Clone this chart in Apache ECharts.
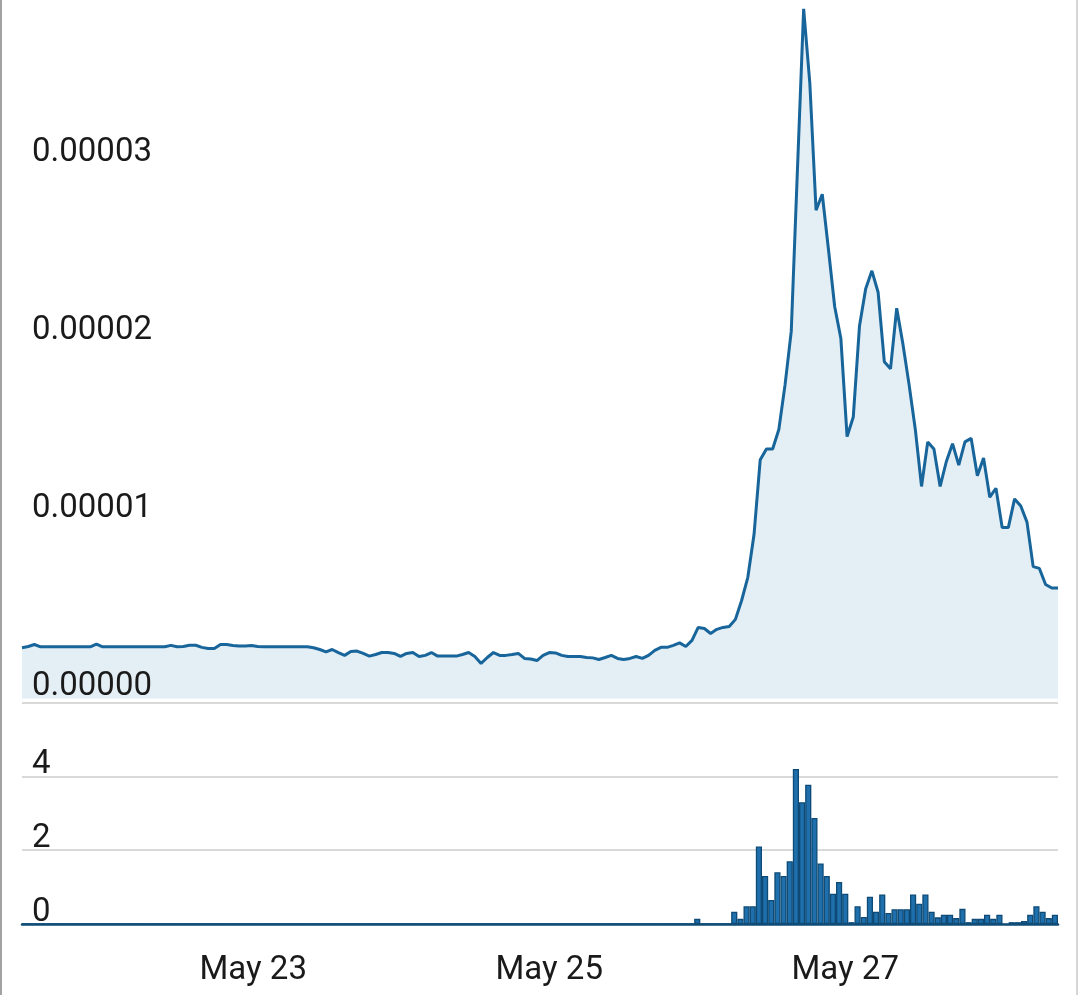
<!DOCTYPE html>
<html>
<head>
<meta charset="utf-8">
<script src="https://cdn.jsdelivr.net/npm/echarts@6/dist/echarts.min.js"></script>
<style>
  html, body { margin: 0; padding: 0; background: #ffffff; }
  #wrap { position: relative; width: 1080px; height: 995px; overflow: hidden; }
  #chart { position: absolute; left: 0; top: 0; width: 1080px; height: 995px; }
  .edgeL { position: absolute; left: 0; top: 0; width: 2px; height: 995px; background: #a3a3a3; }
  .edgeR { position: absolute; left: 1076px; top: 0; width: 2px; height: 995px; background: #d6d6d6; }
</style>
</head>
<body>
<div id="wrap">
  <div id="chart"></div>
  <div class="edgeL"></div>
  <div class="edgeR"></div>
</div>
<script>
// Hourly categories, May 21 11:00 .. May 28 10:00 (168 hours)
const startDay = 21, startHour = 11, hourCount = 168;
const categories = [];
for (let h = 0; h < hourCount; h++) {
  const t = startHour + h;
  categories.push('May ' + (startDay + Math.floor(t / 24)) + ' ' + (t % 24) + ':00');
}
const labelledTimes = ['May 23 0:00', 'May 25 0:00', 'May 27 0:00'];

// Top panel (line / area) values
const lineValues = [
  2.85e-6, 2.92e-6, 3.03e-6, 2.9e-6, 2.9e-6, 2.9e-6, 2.9e-6, 2.9e-6, 2.9e-6, 2.9e-6, 2.9e-6, 2.9e-6,
  3.05e-6, 2.9e-6, 2.9e-6, 2.9e-6, 2.9e-6, 2.9e-6, 2.9e-6, 2.9e-6, 2.9e-6, 2.9e-6, 2.9e-6, 2.9e-6,
  2.98e-6, 2.9e-6, 2.92e-6, 2.99e-6, 2.99e-6, 2.87e-6, 2.81e-6, 2.81e-6, 3.03e-6, 3.03e-6, 2.98e-6, 2.94e-6,
  2.94e-6, 2.98e-6, 2.92e-6, 2.9e-6, 2.9e-6, 2.9e-6, 2.9e-6, 2.9e-6, 2.9e-6, 2.9e-6, 2.9e-6, 2.85e-6,
  2.75e-6, 2.62e-6, 2.75e-6, 2.58e-6, 2.42e-6, 2.64e-6, 2.66e-6, 2.53e-6, 2.38e-6, 2.47e-6, 2.58e-6, 2.58e-6,
  2.53e-6, 2.36e-6, 2.53e-6, 2.58e-6, 2.36e-6, 2.42e-6, 2.58e-6, 2.38e-6, 2.38e-6, 2.38e-6, 2.38e-6, 2.47e-6,
  2.58e-6, 2.36e-6, 1.97e-6, 2.3e-6, 2.58e-6, 2.42e-6, 2.42e-6, 2.47e-6, 2.53e-6, 2.25e-6, 2.22e-6, 2.13e-6,
  2.42e-6, 2.58e-6, 2.56e-6, 2.42e-6, 2.36e-6, 2.36e-6, 2.36e-6, 2.3e-6, 2.28e-6, 2.19e-6, 2.3e-6, 2.42e-6,
  2.25e-6, 2.19e-6, 2.25e-6, 2.36e-6, 2.25e-6, 2.42e-6, 2.7e-6, 2.87e-6, 2.87e-6, 2.98e-6, 3.12e-6, 2.92e-6,
  3.26e-6, 3.99e-6, 3.93e-6, 3.65e-6, 3.88e-6, 3.99e-6, 4.04e-6, 4.44e-6, 5.5e-6, 6.8e-6, 9.2e-6, 13.4e-6,
  14.0e-6, 14.0e-6, 15.1e-6, 17.6e-6, 20.6e-6, 29.7e-6, 38.7e-6, 34.5e-6, 27.4e-6, 28.3e-6, 25.2e-6, 22.0e-6,
  20.2e-6, 14.7e-6, 15.8e-6, 20.9e-6, 23.0e-6, 24.0e-6, 22.8e-6, 18.9e-6, 18.5e-6, 21.9e-6, 19.9e-6, 17.6e-6,
  15.1e-6, 11.9e-6, 14.4e-6, 14.0e-6, 11.9e-6, 13.3e-6, 14.3e-6, 13.1e-6, 14.4e-6, 14.6e-6, 12.5e-6, 13.5e-6,
  11.3e-6, 11.8e-6, 9.6e-6, 9.6e-6, 11.2e-6, 10.8e-6, 9.9e-6, 7.4e-6, 7.3e-6, 6.4e-6, 6.2e-6, 6.2e-6
];

// Bottom panel (bars) values
const barValues = [
  0, 0, 0, 0, 0, 0, 0, 0, 0, 0, 0, 0,
  0, 0, 0, 0, 0, 0, 0, 0, 0, 0, 0, 0,
  0, 0, 0, 0, 0, 0, 0, 0, 0, 0, 0, 0,
  0, 0, 0, 0, 0, 0, 0, 0, 0, 0, 0, 0,
  0, 0, 0, 0, 0, 0, 0, 0, 0, 0, 0, 0,
  0, 0, 0, 0, 0, 0, 0, 0, 0, 0, 0, 0,
  0, 0, 0, 0, 0, 0, 0, 0, 0, 0, 0, 0,
  0, 0, 0, 0, 0, 0, 0, 0, 0, 0, 0, 0,
  0, 0, 0, 0, 0, 0, 0, 0, 0, 0, 0, 0,
  0, 0.14, 0, 0, 0, 0, 0, 0.33, 0.14, 0.48, 0.48, 2.1,
  1.3, 0.65, 1.4, 1.3, 1.7, 4.2, 3.3, 3.77, 2.87, 1.64, 1.3, 0.82,
  1.14, 0.82, 0.05, 0.48, 0.19, 0.74, 0.33, 0.8, 0.3, 0.4, 0.4, 0.4,
  0.8, 0.55, 0.8, 0.33, 0.18, 0.25, 0.25, 0.16, 0.41, 0.05, 0.14, 0.14,
  0.25, 0.14, 0.25, null, 0.05, 0.05, 0.08, 0.25, 0.48, 0.33, 0.16, 0.25
];

const topTicks = { min: 0, max: 0.0000392, interval: 0.00001 };
const bottomTicks = { min: 0, max: 6, interval: 2 };

const fontFamily = 'Roboto, "Noto Sans", sans-serif';
const textColor = '#1a1a1a';
const fontSize = 33;

const chart = echarts.init(document.getElementById('chart'), null, { renderer: 'canvas' });
chart.setOption({
  animation: false,
  backgroundColor: '#ffffff',
  grid: [
    { left: 22, right: 22, top: 0, height: 698.5, containLabel: false },
    { left: 22, right: 22, top: 702.5, height: 221.5, containLabel: false }
  ],
  xAxis: [
    {
      type: 'category', gridIndex: 0, data: categories, boundaryGap: false,
      axisLine: { show: false }, axisTick: { show: false }, axisLabel: { show: false },
      splitLine: { show: false }
    },
    {
      type: 'category', gridIndex: 1, data: categories, boundaryGap: true,
      z: 20,
      axisLine: { show: true, onZero: false, lineStyle: { color: '#0f4c78', width: 2.5 } },
      axisTick: { show: false },
      splitLine: { show: false },
      axisLabel: {
        show: true,
        interval: function (index, value) { return labelledTimes.indexOf(value) >= 0; },
        formatter: function (value) { return value.split(' ').slice(0, 2).join(' '); },
        margin: 30,
        fontSize: fontSize, fontFamily: fontFamily, color: textColor
      }
    }
  ],
  yAxis: [
    {
      type: 'value', gridIndex: 0, min: topTicks.min, max: topTicks.max, interval: topTicks.interval,
      z: 10,
      axisLine: { show: false }, axisTick: { show: false }, splitLine: { show: false },
      axisLabel: {
        inside: true, margin: 10, verticalAlign: 'bottom', lineHeight: 23, showMaxLabel: false,
        fontSize: fontSize, fontFamily: fontFamily, color: textColor,
        formatter: function (v) { return v.toFixed(5); }
      }
    },
    {
      type: 'value', gridIndex: 1, min: bottomTicks.min, max: bottomTicks.max, interval: bottomTicks.interval,
      z: 1,
      axisLine: { show: false }, axisTick: { show: false },
      splitLine: { show: true, lineStyle: { color: '#d9d9d9', width: 2 } },
      axisLabel: {
        inside: true, margin: 10, verticalAlign: 'bottom', lineHeight: 23, showMaxLabel: false,
        fontSize: fontSize, fontFamily: fontFamily, color: textColor
      }
    }
  ],
  series: [
    {
      type: 'line', xAxisIndex: 0, yAxisIndex: 0, data: lineValues,
      symbol: 'none', smooth: false,
      lineStyle: { color: '#17659a', width: 3 },
      areaStyle: { color: '#e4eef5', opacity: 1 },
      z: 2
    },
    {
      type: 'bar', xAxisIndex: 1, yAxisIndex: 1, data: barValues,
      barCategoryGap: '0%', barGap: '0%',
      itemStyle: { color: '#1e6fab', borderColor: '#0e4a75', borderWidth: 1.3 },
      z: 2
    }
  ]
});
</script>
</body>
</html>
